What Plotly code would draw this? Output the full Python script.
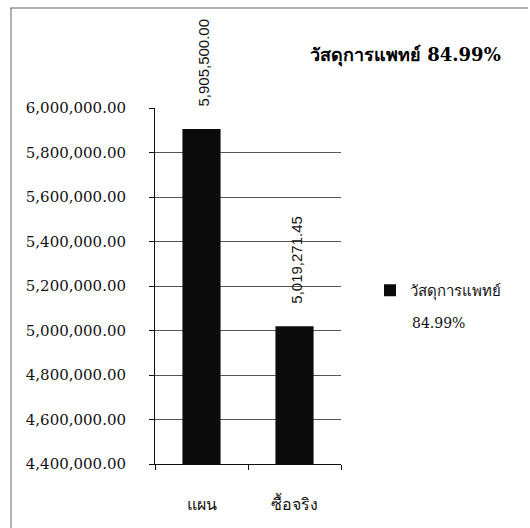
import plotly.graph_objects as go

# Planned vs. actual purchase of medical supplies
categories = ["แผน", "ซื้อจริง"]
amounts = [5905500.00, 5019271.45]
series_name = "วัสดุการแพทย์"
percent_label = "84.99%"
y_ticks = [4400000, 4600000, 4800000, 5000000, 5200000, 5400000, 5600000, 5800000, 6000000]

W, H = 530, 528
L, R, T, B = 155, 189, 108, 64

serif = "DejaVu Serif"
sans = "Liberation Sans"


def px_x(p):
    return (p - L) / (W - L - R)


def px_y(p):
    return (H - B - p) / (H - T - B)


fig = go.Figure()
fig.add_trace(go.Bar(
    x=categories,
    y=amounts,
    name=series_name,
    marker=dict(color="#0b0b0b", line=dict(width=0)),
    width=0.41,
))

# Rotated value labels above each bar
for c, v in zip(categories, amounts):
    fig.add_annotation(
        x=c, y=v, xref="x", yref="y",
        text=f"{v:,.2f}", textangle=-90,
        showarrow=False, yanchor="bottom", xanchor="center",
        yshift=20, xshift=2,
        font=dict(family=sans, size=15, color="#111"),
    )

# Chart title
fig.add_annotation(
    x=px_x(405), y=px_y(55),
    xref="paper", yref="paper", showarrow=False,
    text=f"<b>{series_name} {percent_label}</b>",
    font=dict(family=serif, size=18, color="#000"),
    xanchor="center", yanchor="middle",
)

# Percentage line under the legend entry
fig.add_annotation(
    x=px_x(410), y=px_y(323),
    xref="paper", yref="paper", showarrow=False,
    text=percent_label,
    font=dict(family=serif, size=14, color="#111"),
    xanchor="left", yanchor="middle",
)

# Outer frame (top and left edges)
fig.add_shape(type="line", xref="paper", yref="paper",
              x0=px_x(10), x1=px_x(528), y0=px_y(8), y1=px_y(8),
              line=dict(color="#666", width=1))
fig.add_shape(type="line", xref="paper", yref="paper",
              x0=px_x(11), x1=px_x(11), y0=px_y(8), y1=px_y(528),
              line=dict(color="#666", width=1))

fig.update_layout(
    width=W, height=H,
    margin=dict(l=L, r=R, t=T, b=B, pad=0),
    paper_bgcolor="white", plot_bgcolor="white",
    showlegend=True,
    legend=dict(
        x=px_x(370), y=px_y(274), xanchor="left", yanchor="top",
        valign="middle", bgcolor="rgba(0,0,0,0)",
        font=dict(family=serif, size=15, color="#111"),
        itemwidth=30,
    ),
    bargap=0.59,
)

fig.update_yaxes(
    range=[4400000, 6000000],
    tickvals=y_ticks,
    ticktext=[f"{t:,.2f}" for t in y_ticks],
    tickfont=dict(family=serif, size=15, color="#111"),
    showgrid=True, gridcolor="#555", gridwidth=1,
    showline=True, linecolor="#111", linewidth=1,
    ticks="outside", ticklen=5, tickcolor="#111",
    ticklabelstandoff=20,
    zeroline=False,
)
fig.update_xaxes(
    tickfont=dict(family=serif, size=16, color="#111"),
    showline=True, linecolor="#111", linewidth=1,
    ticks="outside", ticklen=5, tickcolor="#111",
    tickson="boundaries",
    ticklabelstandoff=26,
    showgrid=False,
)

fig.write_html("out.html")
